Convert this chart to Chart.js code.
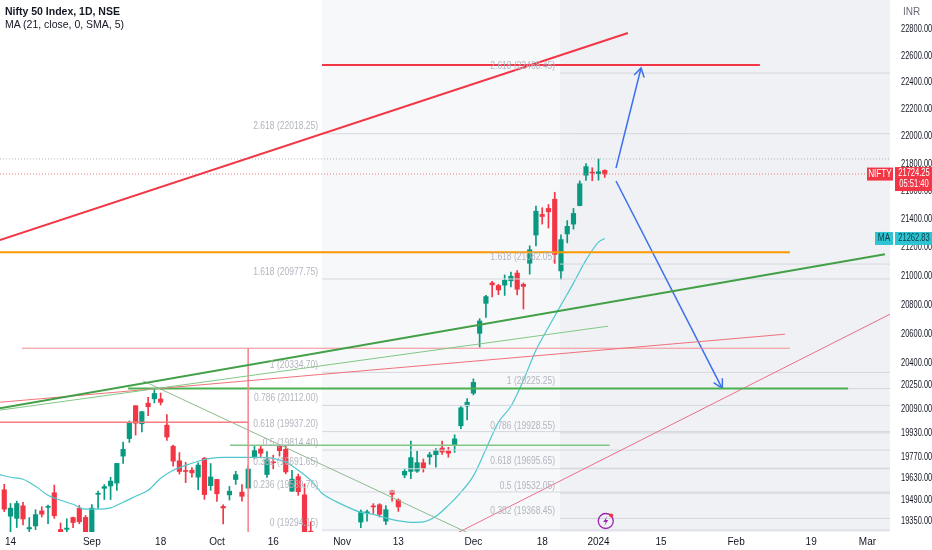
<!DOCTYPE html>
<html lang="en">
<head>
<meta charset="UTF-8">
<title>Nifty 50 Index, 1D, NSE</title>
<style>
  html, body { margin: 0; padding: 0; background: #fff; }
  #wrap { position: relative; width: 932px; height: 550px; overflow: hidden; }
  #chart { position: absolute; left: 0; top: 0; }
  .txt {
    position: absolute;
    font-family: 'Liberation Sans', sans-serif;
    font-size: 10.5px;
    line-height: 12px;
    color: #131722;
    white-space: nowrap;
  }
</style>
</head>
<body>
<div id="wrap">
  <canvas id="chart" width="932" height="550"></canvas>
  <div class="txt" style="left:5px; top:5px; font-weight:bold;">Nifty 50 Index, 1D, NSE</div>
  <div class="txt" style="left:5px; top:18px;">MA (21, close, 0, SMA, 5)</div>
  <div class="txt" style="left:903px; top:6px; font-size:10px; color:#6a6d78;">INR</div>
</div>
<script src="https://cdn.jsdelivr.net/npm/chart.js@4"></script>
<script>
// bar index 0 = 14 Aug 2023, one step per trading day
const firstBar = -1;
const opens = [19554, 19383, 19369, 19450, 19301, 19320, 19417, 19440, 19535, 19297, 19298, 19374, 19433, 19375,
  19258, 19525, 19564, 19579, 19598, 19775, 19891, 20110, 19989, 20127, 20156, 20155, 19980, 19840, 19744, 19678,
  19682, 19637, 19761, 19581, 19622, 19446, 19521, 19621, 19539, 19565, 19767, 19822, 19654, 19737, 19843, 19820,
  19545, 19640, 19521, 19286, 19027, 18928, 19053, 19232, 19064, 19080, 19241, 19345, 19405, 19449, 19457, 19351,
  19547, 19487, 19651, 19674, 19676, 19731, 19770, 19784, 19828, 19809, 19844, 19976, 20108, 20194, 20601, 20808,
  20950, 20932, 20935, 20965, 21019, 20940, 21088, 21287, 21434, 21477, 21543, 21034, 21295, 21365, 21497, 21716,
  21737, 21727, 21751];
const highs = [19590, 19465, 19480, 19472, 19374, 19425, 19444, 19454, 19585, 19339, 19366, 19377, 19452, 19388,
  19458, 19545, 19588, 19636, 19727, 19867, 20008, 20110, 20072, 20167, 20222, 20195, 20051, 19848, 19798, 19734,
  19699, 19730, 19766, 19726, 19623, 19457, 19576, 19675, 19588, 19717, 19839, 19843, 19805, 19781, 19849, 19840,
  19681, 19657, 19593, 19347, 19041, 19076, 19158, 19233, 19096, 19161, 19276, 19423, 19423, 19464, 19464, 19451,
  19547, 19495, 19693, 19875, 19806, 19756, 19800, 19825, 19875, 19833, 19916, 20104, 20158, 20291, 20702, 20864,
  20961, 20941, 21006, 21026, 21037, 20950, 21211, 21493, 21482, 21505, 21593, 21288, 21390, 21477, 21675, 21801,
  21770, 21834, 21755];
const lows = [19412, 19257, 19310, 19326, 19254, 19296, 19378, 19335, 19369, 19230, 19249, 19309, 19334, 19224,
  19255, 19433, 19491, 19491, 19550, 19727, 19865, 19914, 19935, 20044, 20129, 20115, 19878, 19709, 19657, 19601,
  19637, 19555, 19492, 19551, 19479, 19333, 19487, 19589, 19480, 19565, 19757, 19772, 19635, 19691, 19775, 19659,
  19543, 19518, 19257, 19074, 18837, 18926, 19024, 19056, 18973, 19069, 19210, 19309, 19350, 19401, 19378, 19329,
  19480, 19414, 19633, 19627, 19667, 19670, 19721, 19703, 19786, 19768, 19800, 19956, 20015, 20183, 20507, 20711,
  20853, 20868, 20863, 20923, 20867, 20769, 21011, 21211, 21365, 21337, 21087, 20977, 21232, 21329, 21495, 21678,
  21676, 21680, 21700];
const closes = [19428, 19435, 19465, 19365, 19310, 19393, 19396, 19444, 19386, 19266, 19306, 19342, 19347, 19254,
  19435, 19528, 19575, 19611, 19727, 19820, 19997, 19993, 20070, 20103, 20192, 20133, 19901, 19742, 19674, 19674,
  19665, 19716, 19523, 19638, 19528, 19436, 19545, 19653, 19512, 19690, 19811, 19794, 19751, 19731, 19811, 19671,
  19624, 19542, 19281, 19122, 18857, 19047, 19141, 19079, 18989, 19133, 19230, 19411, 19406, 19443, 19395, 19425,
  19525, 19443, 19675, 19765, 19732, 19694, 19784, 19812, 19802, 19794, 19889, 20096, 20133, 20267, 20686, 20855,
  20937, 20901, 20969, 20997, 20906, 20926, 21183, 21457, 21419, 21453, 21150, 21255, 21349, 21441, 21654, 21778,
  21731, 21741, 21724.25];

// MA (21)
const maIdx = [-2, 0, 2, 4, 6, 8, 10, 12, 14, 16, 18, 20, 22, 24, 26, 28, 30, 32, 34, 36, 38, 40, 42, 44, 46, 48,
  50, 52, 54, 56, 58, 60, 62, 64, 66, 68, 70, 72, 74, 76, 78, 80, 82, 84, 86, 88, 90, 92, 94, 95];
const maVals = [19656, 19636, 19623, 19577, 19518, 19486, 19460, 19428, 19428, 19437, 19473, 19512, 19551, 19629,
  19682, 19714, 19741, 19760, 19767, 19767, 19767, 19767, 19760, 19734, 19682, 19616, 19525, 19479, 19440, 19408,
  19395, 19372, 19353, 19343, 19346, 19382, 19453, 19538, 19645, 19820, 19999, 20106, 20282, 20486, 20643, 20796,
  20949, 21110, 21237, 21263];

const xTickIdx = [0, 13, 24, 33, 42, 53, 62, 74, 85, 94, 104, 116, 128, 137];
const xTickLabels = ['14', 'Sep', '18', 'Oct', '16', 'Nov', '13', 'Dec', '18', '2024', '15', 'Feb', '19', 'Mar'];
const yTicks = [22800, 22600, 22400, 22200, 22000, 21800, 21600, 21400, 21200, 21000, 20800, 20600, 20400,
  20250, 20090, 19930, 19770, 19630, 19490, 19350];

const lastPrice = 21724.25;
const lastMa = 21262.83;
const countdown = '05:51:40';
const dayHigh = 21834;

// fib retracements: start bar, ratios, prices
const fibAStart = 49.8;
const fibARatios = ['2.618', '1.618', '1', '0.786', '0.618', '0.5', '0.382', '0.236', '0'];
const fibAPrices = [22018.25, 20977.75, 20334.70, 20112.00, 19937.20, 19814.40, 19691.65, 19539.76, 19294.15];
const fibBStart = 87.85;
const fibBRatios = ['2.618', '1.618', '1', '0.786', '0.618', '0.5', '0.382'];
const fibBPrices = [22468.45, 21082.05, 20225.25, 19928.55, 19695.65, 19532.05, 19368.45];

// drawings: [bar, price] end points
const trendRedThick = [[-1.7, 21251], [98.7, 22770]];
const levelRedTop = [[49.8, 22529], [119.8, 22529]];
const levelOrange = [[-1.7, 21166], [124.6, 21166]];
const trendGreenThick = [[-1.7, 20093], [139.8, 21152]];
const trendGreenThin = [[-1.7, 20080], [95.5, 20650]];
const trendPinkThin = [[-1.7, 20133], [123.8, 20595]];
const levelRedMid = [[1.8, 20499], [124.6, 20499]];
const vertRed = [[38.0, 20499], [38.0, 19100]];
const levelRedLow = [[-1.7, 20000], [38.0, 20000]];
const levelGreenThick = [[18.8, 20225], [133.9, 20225]];
const levelGreenThin = [[35.1, 19847], [95.8, 19847]];
const trendGreenDown = [[21.2, 20277], [75.0, 19240]];
const trendPinkUp = [[70.0, 19246], [140.6, 20733]];
const arrowUp = [[96.8, 21768], [100.8, 22506]];
const arrowUpHead = [[99.7, 22454], [100.8, 22506], [101.3, 22435]];
const arrowDown = [[96.8, 21674], [113.75, 20228]];
const arrowDownHead = [[112.4, 20265], [113.75, 20228], [113.8, 20295]];

const xMin = -1.68, xMax = 140.6;
const yMin = 19281, yMax = 23022;

const UP = '#089981', DOWN = '#f23645';
const FONT = "'Liberation Sans', sans-serif";

const bodies = [], wicks = [], candleColors = [];
for (let i = 0; i < opens.length; i++) {
    const x = firstBar + i;
    bodies.push({ x: x, y: [opens[i], closes[i]] });
    wicks.push({ x: x, y: [lows[i], highs[i]] });
    candleColors.push(closes[i] >= opens[i] ? UP : DOWN);
}

function pts(arr) {
    return arr.map(p => ({ x: p[0], y: p[1] }));
}

function seg(data, color, width, dash) {
    return {
        type: 'line',
        data: pts(data),
        borderColor: color,
        borderWidth: width,
        borderDash: dash || [],
        pointRadius: 0,
        fill: false,
        tension: 0,
        order: 1
    };
}

// condensed-looking text: squeeze horizontally
function narrow(ctx, text, x, y, align, sx) {
    ctx.save();
    ctx.translate(x, y);
    ctx.scale(sx, 1);
    ctx.textAlign = align;
    ctx.fillText(text, 0, 0);
    ctx.restore();
}

const fibDatasets = [];
fibAPrices.forEach(p => fibDatasets.push(Object.assign(seg([[fibAStart, p], [xMax, p]], '#d4d7de', 1), { order: 3 })));
fibBPrices.forEach(p => fibDatasets.push(Object.assign(seg([[fibBStart, p], [xMax, p]], '#d4d7de', 1), { order: 3 })));

const backdrop = {
    id: 'backdrop',
    beforeDatasetsDraw(chart) {
        const { ctx, chartArea: a, scales: { x } } = chart;
        ctx.save();
        const xa = x.getPixelForValue(fibAStart);
        const xb = x.getPixelForValue(fibBStart);
        ctx.fillStyle = '#f7f8fa';
        ctx.fillRect(xa, a.top, a.right - xa, a.bottom - a.top);
        ctx.fillStyle = '#eff1f4';
        ctx.fillRect(xb, a.top, a.right - xb, a.bottom - a.top);
        ctx.restore();
    }
};

const overlays = {
    id: 'overlays',
    afterDatasetsDraw(chart) {
        const { ctx, chartArea: a, scales: { x, y } } = chart;
        ctx.save();
        ctx.beginPath();
        ctx.rect(a.left, a.top, a.right - a.left, a.bottom - a.top);
        ctx.clip();
        ctx.font = '10px ' + FONT;
        ctx.fillStyle = '#b2b5be';
        ctx.textBaseline = 'middle';
        const xa = x.getPixelForValue(fibAStart) - 4;
        fibAPrices.forEach((p, i) => {
            narrow(ctx, fibARatios[i] + ' (' + p.toFixed(2) + ')', xa, y.getPixelForValue(p) - 7, 'right', 0.85);
        });
        const xb = x.getPixelForValue(fibBStart) - 5;
        fibBPrices.forEach((p, i) => {
            narrow(ctx, fibBRatios[i] + ' (' + p.toFixed(2) + ')', xb, y.getPixelForValue(p) - 7, 'right', 0.85);
        });

        // lightning badge under the last bar
        const bx = x.getPixelForValue(firstBar + opens.length - 1) + 1;
        const by = a.bottom - 11;
        ctx.strokeStyle = '#9c27b0';
        ctx.lineWidth = 1.3;
        ctx.beginPath();
        ctx.arc(bx, by, 7.5, 0, Math.PI * 2);
        ctx.stroke();
        ctx.fillStyle = '#9c27b0';
        ctx.beginPath();
        ctx.moveTo(bx + 1.5, by - 5);
        ctx.lineTo(bx - 2.5, by + 1);
        ctx.lineTo(bx, by + 1);
        ctx.lineTo(bx - 1.5, by + 5);
        ctx.lineTo(bx + 2.5, by - 1);
        ctx.lineTo(bx, by - 1);
        ctx.closePath();
        ctx.fill();
        ctx.fillStyle = '#f23645';
        ctx.beginPath();
        ctx.arc(bx + 5.5, by - 5.5, 2, 0, Math.PI * 2);
        ctx.fill();
        ctx.restore();
    },
    afterDraw(chart) {
        const { ctx, chartArea: a, scales: { y } } = chart;
        ctx.save();
        ctx.font = '11px ' + FONT;
        ctx.textBaseline = 'middle';
        // price scale labels
        ctx.fillStyle = '#131722';
        y.ticks.forEach(t => {
            narrow(ctx, t.value.toFixed(2), a.right + 11, y.getPixelForValue(t.value), 'left', 0.68);
        });
        ctx.font = '10.5px ' + FONT;
        // last price
        const py = y.getPixelForValue(lastPrice);
        ctx.fillStyle = DOWN;
        ctx.fillRect(a.right - 23, py - 6.5, 26, 13);
        ctx.fillRect(a.right + 5, py - 7, 37, 24);
        ctx.fillStyle = '#fff';
        narrow(ctx, 'NIFTY', a.right - 10, py, 'center', 0.78);
        narrow(ctx, lastPrice.toFixed(2), a.right + 24, py - 0.5, 'center', 0.72);
        narrow(ctx, countdown, a.right + 24, py + 10, 'center', 0.72);
        // moving average
        const my = y.getPixelForValue(lastMa);
        ctx.fillStyle = '#2ec4d4';
        ctx.fillRect(a.right - 15, my - 6.5, 18, 13);
        ctx.fillRect(a.right + 5, my - 6.5, 37, 13);
        ctx.fillStyle = '#0f3b40';
        narrow(ctx, 'MA', a.right - 6, my, 'center', 0.78);
        narrow(ctx, lastMa.toFixed(2), a.right + 24, my, 'center', 0.72);
        ctx.restore();
    }
};

new Chart(document.getElementById('chart'), {
    type: 'bar',
    data: {
        datasets: [
            seg(trendRedThick, '#f23645', 2),
            seg(levelRedTop, '#f23645', 2),
            seg(levelOrange, '#ff9800', 2),
            seg(trendGreenThick, '#43a047', 2),
            seg(trendGreenThin, '#81c784', 1),
            seg(trendPinkThin, '#f0717a', 1),
            seg(levelRedMid, '#f48c94', 1),
            seg(vertRed, '#f48c94', 1),
            seg(levelRedLow, '#f77c80', 1.5),
            seg(levelGreenThick, '#4caf50', 2),
            seg(levelGreenThin, '#81c784', 1.5),
            seg(trendGreenDown, '#8fb98f', 1),
            seg(trendPinkUp, '#ec6f8c', 1),
            seg(arrowUp, '#3a6ff0', 1.5),
            seg(arrowUpHead, '#3a6ff0', 1.5),
            seg(arrowDown, '#3a6ff0', 1.5),
            seg(arrowDownHead, '#3a6ff0', 1.5),
            Object.assign(seg([[xMin, dayHigh], [xMax, dayHigh]], '#b2b5be', 1, [1, 2]), { order: 2 }),
            Object.assign(seg([[xMin, lastPrice], [xMax, lastPrice]], '#f77c80', 1, [1, 2]), { order: 2 }),
            ...fibDatasets,
            {
                type: 'line',
                data: maIdx.map((v, i) => ({ x: v, y: maVals[i] })),
                borderColor: '#4fc7cf',
                borderWidth: 1.2,
                pointRadius: 0,
                cubicInterpolationMode: 'monotone',
                fill: false,
                order: 5
            },
            {
                data: bodies,
                backgroundColor: candleColors,
                borderWidth: 0,
                barThickness: 4.5,
                minBarLength: 1,
                grouped: false,
                order: 8
            },
            {
                data: wicks,
                backgroundColor: candleColors,
                borderWidth: 0,
                barThickness: 1,
                grouped: false,
                order: 9
            }
        ]
    },
    options: {
        responsive: false,
        animation: false,
        devicePixelRatio: 1,
        layout: { padding: 0 },
        plugins: {
            legend: { display: false },
            tooltip: { enabled: false }
        },
        scales: {
            x: {
                type: 'linear',
                min: xMin,
                max: xMax,
                offset: false,
                grid: { display: false, drawTicks: false, offset: false },
                border: { display: false },
                afterBuildTicks: (scale) => {
                    scale.ticks = xTickIdx.map(v => ({ value: v }));
                },
                afterFit: (scale) => {
                    scale.height = 18;
                    scale.paddingLeft = 0;
                    scale.paddingRight = 0;
                },
                ticks: {
                    autoSkip: false,
                    maxRotation: 0,
                    padding: 4,
                    color: '#131722',
                    font: { family: FONT, size: 10 },
                    callback: (value, index) => xTickLabels[index]
                }
            },
            y: {
                type: 'logarithmic',
                position: 'right',
                min: yMin,
                max: yMax,
                bounds: 'data',
                grid: { display: false, drawTicks: false },
                border: { display: false },
                afterBuildTicks: (scale) => {
                    scale.ticks = yTicks.map(v => ({ value: v }));
                },
                afterFit: (scale) => {
                    scale.width = 42;
                    scale.paddingTop = 0;
                    scale.paddingBottom = 0;
                },
                ticks: { display: false }
            }
        }
    },
    plugins: [backdrop, overlays]
});
</script>
</body>
</html>
